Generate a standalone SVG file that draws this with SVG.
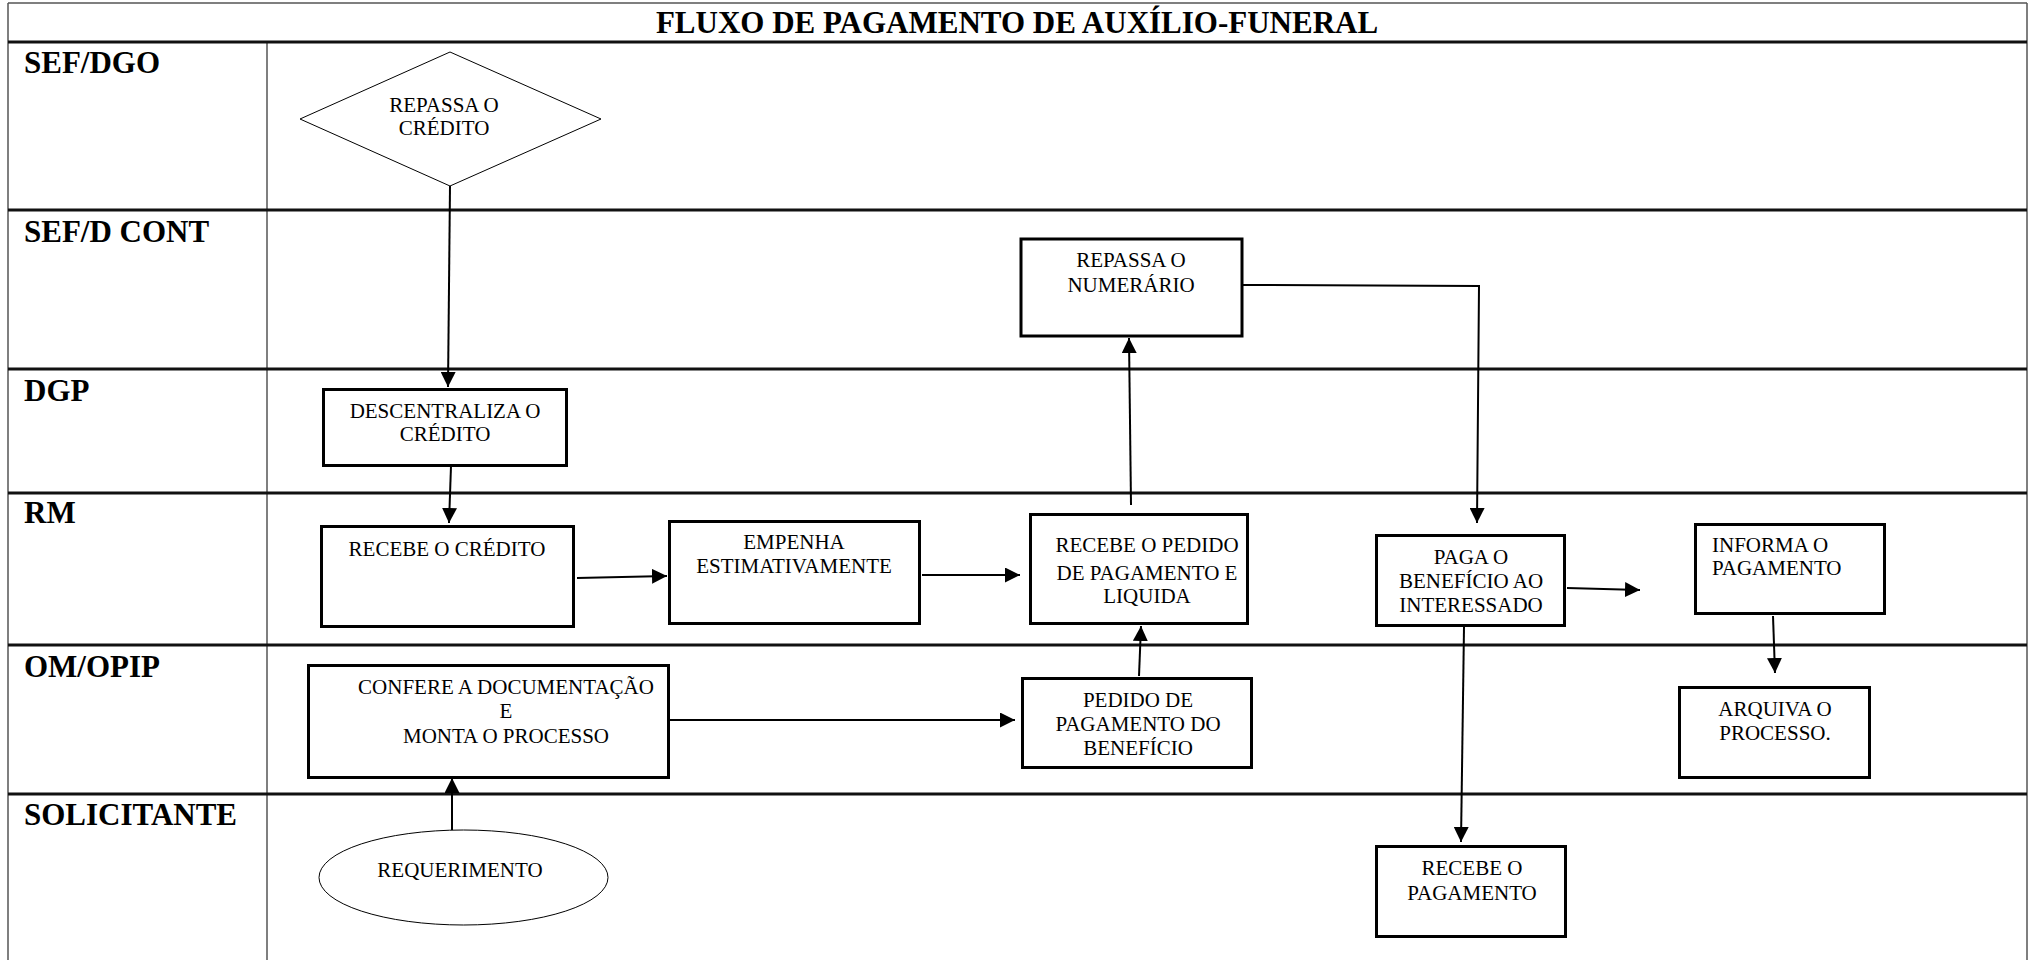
<svg xmlns="http://www.w3.org/2000/svg" width="2033" height="960" viewBox="0 0 2033 960">
<style>
.bg{fill:#fff}
.lane{stroke:#111;stroke-width:3;fill:none}
.thin{stroke:#555;stroke-width:1.5;fill:none}
.lbl{font-family:"Liberation Serif","Times New Roman",serif;font-weight:bold;font-size:31px;fill:#000}
.title{font-family:"Liberation Serif","Times New Roman",serif;font-weight:bold;font-size:31px;fill:#000}
.box{fill:#fff;stroke:#000;stroke-width:3}
.shape{fill:#fff;stroke:#000;stroke-width:1}
.t{font-family:"Liberation Serif","Times New Roman",serif;font-size:21px;fill:#000;text-anchor:middle}
.tl{font-family:"Liberation Serif","Times New Roman",serif;font-size:21px;fill:#000}
.con{stroke:#000;stroke-width:2;fill:none;marker-end:url(#arr)}
</style>
<defs>
<marker id="arr" markerUnits="userSpaceOnUse" markerWidth="15" markerHeight="15" refX="15" refY="7.5" orient="auto">
<path d="M0,0 L15,7.5 L0,15 z" fill="#000"/>
</marker>
</defs>
<rect class="bg" x="0" y="0" width="2033" height="960"/>
<g id="table">
<line class="thin" x1="8" y1="3" x2="2027" y2="3"/>
<line class="thin" x1="8" y1="3" x2="8" y2="960"/>
<line class="thin" x1="2027" y1="3" x2="2027" y2="960"/>
<line class="thin" x1="267" y1="42" x2="267" y2="960"/>
<line class="lane" x1="8" y1="42" x2="2027" y2="42"/>
<line class="lane" x1="8" y1="210" x2="2027" y2="210"/>
<line class="lane" x1="8" y1="369" x2="2027" y2="369"/>
<line class="lane" x1="8" y1="493" x2="2027" y2="493"/>
<line class="lane" x1="8" y1="645" x2="2027" y2="645"/>
<line class="lane" x1="8" y1="794" x2="2027" y2="794"/>
<text class="title" x="1017" y="33" text-anchor="middle">FLUXO DE PAGAMENTO DE AUXÍLIO-FUNERAL</text>
<text class="lbl" x="24" y="73">SEF/DGO</text>
<text class="lbl" x="24" y="242">SEF/D CONT</text>
<text class="lbl" x="24" y="401">DGP</text>
<text class="lbl" x="24" y="523">RM</text>
<text class="lbl" x="24" y="677">OM/OPIP</text>
<text class="lbl" x="24" y="825">SOLICITANTE</text>
</g>
<g id="connectors">
<path class="con" d="M450,186 L448,387"/>
<path class="con" d="M451,466 L449,523"/>
<path class="con" d="M577,578 L667,576"/>
<path class="con" d="M922,575 L1020,575"/>
<path class="con" d="M1131,505 L1129,338"/>
<path class="con" d="M1243,285 L1479,286 L1477,523"/>
<path class="con" d="M1139,676 L1141,626"/>
<path class="con" d="M670,720 L1015,720"/>
<path class="con" d="M452,830 L452,778"/>
<path class="con" d="M1567,588 L1640,590"/>
<path class="con" d="M1464,627 L1461,842"/>
<path class="con" d="M1773,616 L1775,673"/>
</g>
<g id="n-repassa-credito">
<polygon class="shape" points="450,52 601,119 450,186 300,119"/>
<text class="t" x="444" y="112">REPASSA O</text>
<text class="t" x="444" y="135">CRÉDITO</text>
</g>
<g id="n-repassa-numerario">
<rect class="box" x="1021" y="239" width="221" height="97"/>
<text class="t" x="1131" y="267">REPASSA O</text>
<text class="t" x="1131" y="292">NUMERÁRIO</text>
</g>
<g id="n-descentraliza">
<rect class="box" x="323.5" y="389.5" width="243" height="76"/>
<text class="t" x="445" y="418">DESCENTRALIZA O</text>
<text class="t" x="445" y="441">CRÉDITO</text>
</g>
<g id="n-recebe-credito">
<rect class="box" x="321.5" y="526.5" width="252" height="100"/>
<text class="t" x="447" y="556">RECEBE O CRÉDITO</text>
</g>
<g id="n-empenha">
<rect class="box" x="669.5" y="521.5" width="250" height="102"/>
<text class="t" x="794" y="549">EMPENHA</text>
<text class="t" x="794" y="573">ESTIMATIVAMENTE</text>
</g>
<g id="n-recebe-pedido">
<rect class="box" x="1030.5" y="514.5" width="217" height="109"/>
<text class="t" x="1147" y="552">RECEBE O PEDIDO</text>
<text class="t" x="1147" y="580">DE PAGAMENTO E</text>
<text class="t" x="1147" y="603">LIQUIDA</text>
</g>
<g id="n-pedido-pagamento">
<rect class="box" x="1022.5" y="678.5" width="229" height="89"/>
<text class="t" x="1138" y="707">PEDIDO DE</text>
<text class="t" x="1138" y="731">PAGAMENTO DO</text>
<text class="t" x="1138" y="755">BENEFÍCIO</text>
</g>
<g id="n-confere">
<rect class="box" x="308.5" y="665.5" width="360" height="112"/>
<text class="t" x="506" y="694">CONFERE A DOCUMENTAÇÃO</text>
<text class="t" x="506" y="718">E</text>
<text class="t" x="506" y="743">MONTA O PROCESSO</text>
</g>
<g id="n-requerimento">
<ellipse class="shape" cx="463.5" cy="877.5" rx="144.5" ry="47.5"/>
<text class="t" x="460" y="877">REQUERIMENTO</text>
</g>
<g id="n-paga">
<rect class="box" x="1376.5" y="535.5" width="188" height="90"/>
<text class="t" x="1471" y="564">PAGA O</text>
<text class="t" x="1471" y="588">BENEFÍCIO AO</text>
<text class="t" x="1471" y="612">INTERESSADO</text>
</g>
<g id="n-informa">
<rect class="box" x="1695.5" y="524.5" width="189" height="89"/>
<text class="tl" x="1712" y="552">INFORMA O</text>
<text class="tl" x="1712" y="575">PAGAMENTO</text>
</g>
<g id="n-arquiva">
<rect class="box" x="1679.5" y="687.5" width="190" height="90"/>
<text class="t" x="1775" y="716">ARQUIVA O</text>
<text class="t" x="1775" y="740">PROCESSO.</text>
</g>
<g id="n-recebe-pagamento">
<rect class="box" x="1376.5" y="846.5" width="189" height="90"/>
<text class="t" x="1472" y="875">RECEBE O</text>
<text class="t" x="1472" y="900">PAGAMENTO</text>
</g>
</svg>
